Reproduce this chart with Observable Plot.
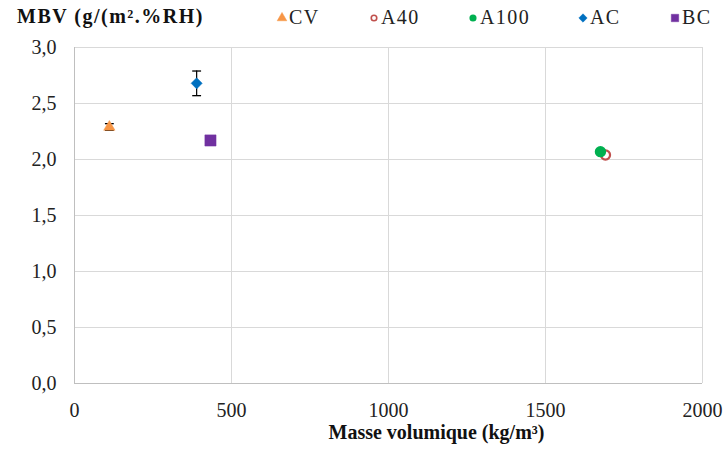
<!DOCTYPE html>
<html>
<head>
<meta charset="utf-8">
<script src="https://cdn.jsdelivr.net/npm/d3@7"></script>
<script src="https://cdn.jsdelivr.net/npm/@observablehq/plot@0.6"></script>
<style>
  html, body { margin: 0; padding: 0; background: #fff; }
  #wrap { position: relative; width: 725px; height: 449px; font-family: "Liberation Serif", "DejaVu Serif", serif; }
  #title { position: absolute; left: 17px; top: 5px; font-size: 20px; letter-spacing: 1.5px; font-weight: bold; color: #111; white-space: nowrap; font-family: "Liberation Serif", serif; }
  .leg { position: absolute; top: 6px; font-size: 20px; color: #222; white-space: nowrap; display: flex; align-items: center; font-family: "Liberation Serif", serif; letter-spacing: 1.4px; }
  .leg svg { margin-right: 1px; }
  #chart { position: absolute; left: 0; top: 0; }
  #chart svg text { font-family: "Liberation Serif", serif !important; }
</style>
</head>
<body>
<div id="wrap">
  <div id="chart"></div>
  <div id="title">MBV (g/(m².%RH)</div>
  <div id="legend"></div>
</div>
<script>
// ---- data ----
const series  = ["CV", "A40", "A100", "AC", "BC"];
const density = [111, 1691, 1675, 389, 433];      // kg/m3
const mbv     = [2.29, 2.04, 2.07, 2.68, 2.17];   // g/(m2.%RH)
const errMbv  = [0.03, 0, 0, 0.11, 0];
const symbols = ["triangle", "circle", "circle", "diamond2", "square"];
const colors  = ["#f79646", "#c0504d", "#00b050", "#0070c0", "#7030a0"];
const fills   = ["#f79646", "#ffffff", "#00b050", "#0070c0", "#7030a0"];
const xTicks  = [0, 500, 1000, 1500, 2000];
const yTicks  = [0, 0.5, 1, 1.5, 2, 2.5, 3];
const legendX = [276, 368, 467, 577, 669];

const rows = series.map((s, i) => ({
  s, x: density[i], y: mbv[i], e: errMbv[i],
  sym: symbols[i], stroke: colors[i], fill: fills[i]
}));
const errRows = rows.filter(d => d.e > 0);

const capSymbol = {
  draw(ctx, size) {
    const w = Math.sqrt(size) / 2;
    ctx.moveTo(-w, 0); ctx.lineTo(w, 0);
  }
};

const markerR = { triangle: 4.2, circle: 4.6, diamond2: 5, square: 6.3 };

const fmt = d => d3.format(".1f")(d).replace(".", ",");
const FONT = "'Liberation Serif', serif";

const chart = Plot.plot({
  width: 725,
  height: 449,
  marginLeft: 74,
  marginRight: 23,
  marginTop: 47,
  marginBottom: 66,
  style: { fontFamily: FONT, fontSize: "20px", color: "#222", background: "transparent" },
  r: { type: "identity" },
  x: { domain: [0, 2000], ticks: xTicks, tickFormat: d => String(d), tickSize: 0, tickPadding: 19, label: null },
  y: { domain: [0, 3], ticks: yTicks, tickFormat: fmt, tickSize: 0, tickPadding: 18, label: null },
  marks: [
    Plot.gridX(xTicks, { stroke: "#d9d9d9", strokeOpacity: 1, strokeWidth: 1 }),
    Plot.gridY(yTicks, { stroke: "#d9d9d9", strokeOpacity: 1, strokeWidth: 1 }),
    Plot.ruleX([0], { stroke: "#bfbfbf", strokeWidth: 1 }),
    Plot.ruleY([0], { stroke: "#bfbfbf", strokeWidth: 1 }),
    Plot.ruleX(errRows, { x: "x", y1: d => d.y - d.e, y2: d => d.y + d.e, stroke: "#000", strokeWidth: 1.2 }),
    Plot.dot(errRows, { x: "x", y: d => d.y - d.e, symbol: capSymbol, r: 5, stroke: "#000", strokeWidth: 1.3 }),
    Plot.dot(errRows, { x: "x", y: d => d.y + d.e, symbol: capSymbol, r: 5, stroke: "#000", strokeWidth: 1.3 }),
    Plot.dot(rows, {
      x: "x", y: "y",
      symbol: d => d.sym,
      r: d => markerR[d.sym],
      fill: d => d.fill,
      stroke: d => d.stroke,
      strokeWidth: d => d.sym === "circle" ? 2.2 : 0.5
    }),
    Plot.text(["Masse volumique (kg/m³)"], { frameAnchor: "bottom", dx: 48, dy: 55, fontWeight: "bold", fontSize: 20, fill: "#111", fontFamily: FONT, letterSpacing: "0.8px" })
  ]
});
document.getElementById("chart").appendChild(chart);

// ---- legend ----
const leg = document.getElementById("legend");
const d3sym = { triangle: d3.symbolTriangle, circle: d3.symbolCircle, diamond2: d3.symbolDiamond2, square: d3.symbolSquare };
const legSize = { triangle: 40, circle: 24, diamond2: 45, square: 55 };
series.forEach((s, i) => {
  const item = document.createElement("div");
  item.className = "leg";
  item.style.left = legendX[i] + "px";
  const sym = d3.symbol().type(d3sym[symbols[i]]).size(legSize[symbols[i]])();
  item.innerHTML = `<svg width="12" height="12" viewBox="-6 -6 12 12"><path d="${sym}" fill="${fills[i]}" stroke="${colors[i]}" stroke-width="${symbols[i] === "circle" ? 1.6 : 0.5}"/></svg><span>${s}</span>`;
  leg.appendChild(item);
});
</script>
</body>
</html>
